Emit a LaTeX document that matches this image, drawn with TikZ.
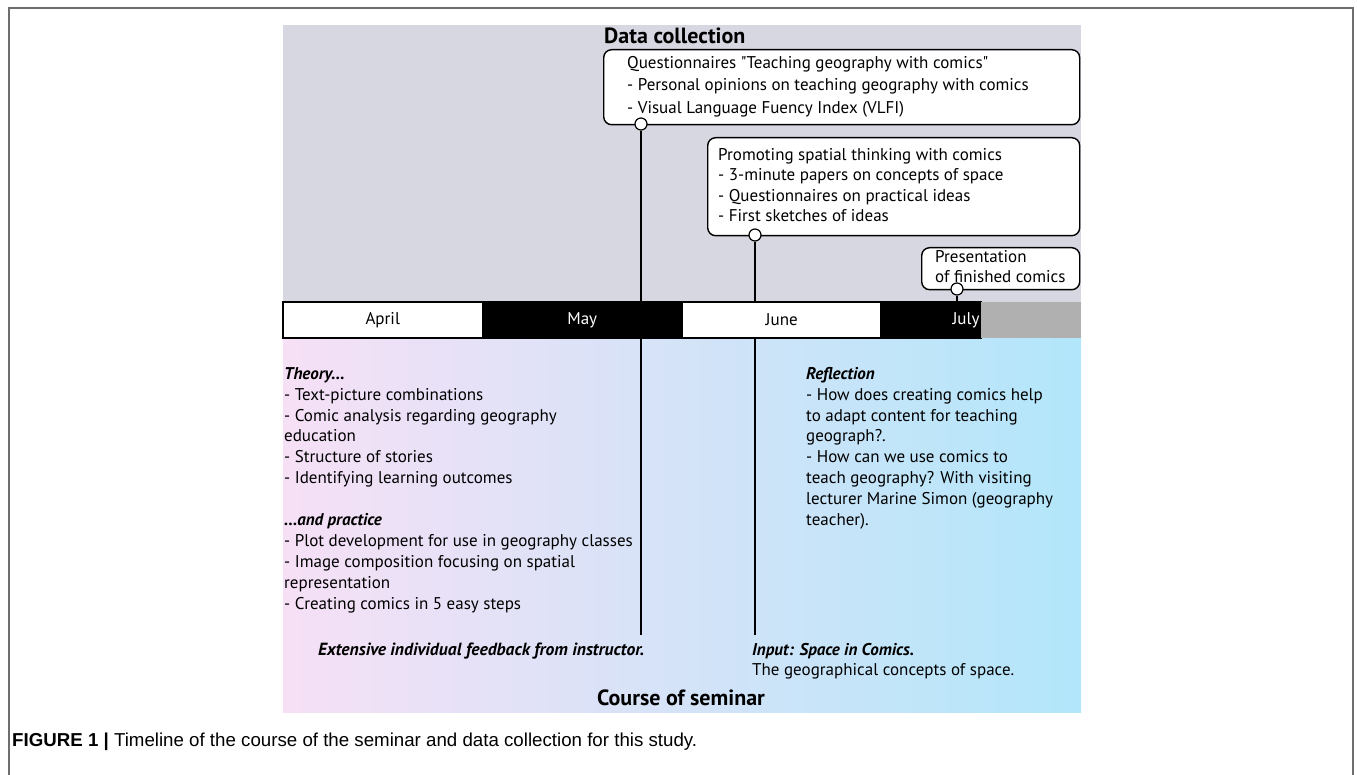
\documentclass[tikz,border=0pt]{standalone}
\usepackage{fontspec}
\setmainfont{PT Sans}
\newfontfamily\capfont{Liberation Sans}
\usetikzlibrary{backgrounds}
\pgfdeclarelayer{panel}
\pgfdeclarelayer{wires}
\pgfsetlayers{panel,wires,main}
\definecolor{framegray}{RGB}{110,110,110}
\definecolor{topgray}{RGB}{215,215,225}
\definecolor{pinkL}{RGB}{246,224,246}
\definecolor{midC}{RGB}{218,228,248}
\definecolor{blueR}{RGB}{178,230,250}
\definecolor{bargray}{RGB}{176,176,176}
\begin{document}
\begin{tikzpicture}[x=1pt,y=-1pt,
  body/.style={font=\fontsize{17}{20.9}\selectfont, inner sep=0, align=left, anchor=north west},
  title/.style={font=\fontsize{22}{26}\selectfont\bfseries, inner sep=0, anchor=base west},
  boxn/.style={draw=black, line width=1.4pt, fill=white, rounded corners=8pt, anchor=north west, inner sep=0},
  dot/.style={circle, draw=black, line width=1.2pt, fill=white, minimum size=12pt, inner sep=0},
  conn/.style={draw=black, line width=1.2pt},
  month/.style={draw=black, line width=1.5pt, minimum height=36pt, minimum width=199.5pt, inner sep=0, font=\fontsize{17}{20}\selectfont},
  wmonth/.style={month, fill=white, text=black},
  bmonth/.style={month, fill=black, text=white}]
\useasboundingbox (0,0) rectangle (1357,775);
\begin{pgfonlayer}{panel}
\fill[white] (0,0) rectangle (1357,775);
\draw[framegray, line width=1.5pt] (9,775) -- (9,8) -- (1353,8) -- (1353,775);
\fill[topgray] (283,25) rectangle (1081,302);
\shade[left color=pinkL, middle color=midC, right color=blueR] (283,338) rectangle (1081,712);
\end{pgfonlayer}
% timeline bar
\node[wmonth] (apr) at (382.75,320) {April};
\node[bmonth] (may) at (582.25,320) {May};
\node[wmonth] (jun) at (781.75,320) {June};
\node[bmonth, minimum width=100pt, text width=97pt, align=right] (jul) at (931,320) {July};
\node[fill=bargray, minimum width=100pt, minimum height=36pt, inner sep=0] (rest) at (1031,320) {};
% titles
\node[title] (dctitle) at (604,44) {Data collection};
\node[title, anchor=base] (cstitle) at (681,705) {Course of seminar};
% boxes
\node[boxn, minimum width=476pt, minimum height=75pt] (b1) at (603,49) {};
\node[body, font=\fontsize{17}{22.5}\selectfont] (t1) at (627,52.25) {\strut Questionnaires \textquotedbl Teaching geography with comics\textquotedbl\\- Personal opinions on teaching geography with comics\\- Visual Language Fuency Index (VLFI)};
\node[boxn, minimum width=372pt, minimum height=98pt] (b2) at (707,137) {};
\node[body, font=\fontsize{17}{20.5}\selectfont] (t2) at (718,145.65) {\strut Promoting spatial thinking with comics\\- 3-minute papers on concepts of space\\- Questionnaires on practical ideas\\- First sketches of ideas};
\node[boxn, minimum width=158pt, minimum height=42pt] (b3) at (921,247) {};
\node[body, font=\fontsize{17}{20}\selectfont] (t3) at (935,248) {\strut Presentation\\of finished comics};
% connectors
\node[dot] (c1) at (641,124) {};
\node[dot] (c2) at (755,235) {};
\node[dot] (c3) at (957,289) {};
\coordinate (e1) at (641,635);
\coordinate (e2) at (755,635);
\begin{pgfonlayer}{wires}
\draw[conn] (c1) -- (e1);
\draw[conn] (c2) -- (e2);
\draw[conn] (c3) -- (c3 |- jul.north);
\end{pgfonlayer}
% lower texts
\node[body] (theory) at (284,364.4) {\strut\textbf{\textit{Theory...}}\\
- Text-picture combinations\\
- Comic analysis regarding geography\\
education\\
- Structure of stories\\
- Identifying learning outcomes\\[20.9pt]
\textbf{\textit{...and practice}}\\
- Plot development for use in geography classes\\
- Image composition focusing on spatial\\
representation\\
- Creating comics in 5 easy steps};
\node[body] (refl) at (806,364.4) {\strut\textbf{\textit{Reflection}}\\
- How does creating comics help\\
to adapt content for teaching\\
geograph?.\\
- How can we use comics to\\
teach geography? With visiting\\
lecturer Marine Simon (geography\\
teacher).};
\node[inner sep=0, anchor=base west, font=\fontsize{17.6}{20}\selectfont\bfseries\itshape] (feedback) at (318,655) {Extensive individual feedback from instructor.};
\node[body, font=\fontsize{17}{20}\selectfont] (input) at (752,641) {\strut\textbf{\textit{Input: Space in Comics.}}\\The geographical concepts of space.};
% caption
\node[inner sep=0, anchor=base west, font=\capfont\fontsize{18.7}{22}\selectfont] (cap) at (12,746) {\textbf{FIGURE 1 |} Timeline of the course of the seminar and data collection for this study.};
\end{tikzpicture}
\end{document}
